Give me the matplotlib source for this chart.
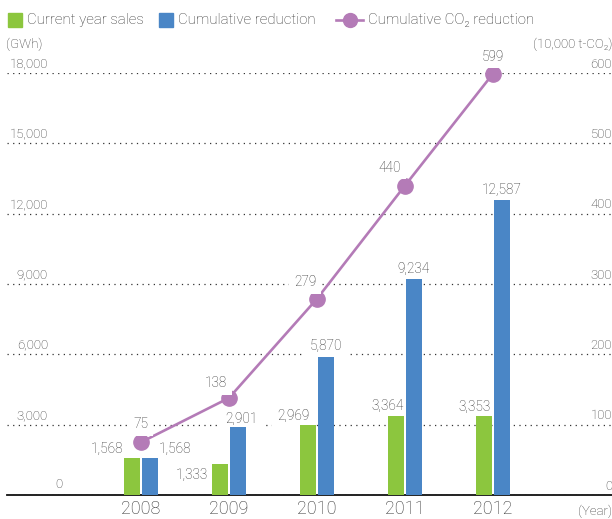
import matplotlib
matplotlib.use('Agg')
import matplotlib.pyplot as plt
from matplotlib.patches import Rectangle
from matplotlib.lines import Line2D
import numpy as np

plt.rcParams['font.family'] = ['Roboto', 'DejaVu Sans']
plt.rcParams['font.weight'] = 'light'

#%% data
years = ['2008', '2009', '2010', '2011', '2012']
current_sales = [1568, 1333, 2969, 3364, 3353]
cumulative_reduction = [1568, 2901, 5870, 9234, 12587]
co2_reduction = [75, 138, 279, 440, 599]

left_ticks = [0, 3000, 6000, 9000, 12000, 15000, 18000]
right_ticks = [0, 100, 200, 300, 400, 500, 600]

#%% style
GREEN = '#8cc63e'
BLUE = '#4a86c6'
PURPLE = '#b47bb7'
TXT = '#333333'
W, H = 612, 519
PT = 0.72  # points per pixel at dpi 100

# label offsets in pixels (dx, dy, ha) relative to bar top centre / marker
green_off = [(-9, 9, 'right'), (-12, -11, 'right'), (1, 9, 'right'), (8, 10, 'right'), (7, 9, 'right')]
blue_off = [(9, 9, 'left'), (3, 8, 'center'), (0, 11, 'center'), (-1, 10, 'center'), (0, 10, 'center')]
line_off = [(0, 18), (-13, 15), (-12, 17), (-15, 18), (0, 17)]


def fx(px):
    return px / W


def fy(py):
    return 1 - py / H


fig = plt.figure(figsize=(W / 100, H / 100), dpi=100)
ax = fig.add_axes([fx(7), fy(495), (612 - 7) / W, (495 - 73) / H])

x = np.arange(len(years))
step = 88.0
ax.set_xlim((7 - 141) / step, (612 - 141) / step)
ax.set_ylim(0, 18000)

bw = 16 / step
off = 9 / step
ax.bar(x - off, current_sales, width=bw, color=GREEN, zorder=3)
ax.bar(x + off, cumulative_reduction, width=bw, color=BLUE, zorder=3)

ax.set_yticks(left_ticks)
ax.yaxis.grid(True, linestyle=(0, (1, 3.5)), color='#333333', linewidth=0.9, zorder=0)
ax.tick_params(axis='y', length=0, labelleft=False)
ax.set_xticks(x)
ax.set_xticklabels(years, fontsize=13, color=TXT)
ax.tick_params(axis='x', length=0, pad=3.5)
for s in ['top', 'left', 'right']:
    ax.spines[s].set_visible(False)
ax.spines['bottom'].set_linewidth(1.3)
ax.spines['bottom'].set_color('#111111')
ax.set_axisbelow(True)

box = dict(boxstyle='square,pad=0.35', fc='white', ec='none')

# left tick labels
ytr = ax.get_yaxis_transform()
for v in left_ticks:
    if v == 0:
        ax.annotate('0', xy=((59 - 7) / 605, 0), xycoords=ytr, xytext=(0, 11 * PT),
                    textcoords='offset points', ha='center', va='center', fontsize=9.5, color=TXT)
    else:
        ax.annotate(f'{v:,}', xy=((48 - 7) / 605, v), xycoords=ytr, xytext=(0, 9 * PT),
                    textcoords='offset points', ha='right', va='center', fontsize=9.5, color=TXT)

# bar value labels (below the bars so the white box only hides gridlines)
for i in range(len(years)):
    dx, dy, ha = green_off[i]
    ax.annotate(f'{current_sales[i]:,}', xy=(x[i] - off, current_sales[i]),
                xytext=(dx * PT, dy * PT), textcoords='offset points',
                ha=ha, va='center', fontsize=9.8, color=TXT, bbox=box, zorder=2)
    dx, dy, ha = blue_off[i]
    ax.annotate(f'{cumulative_reduction[i]:,}', xy=(x[i] + off, cumulative_reduction[i]),
                xytext=(dx * PT, dy * PT), textcoords='offset points',
                ha=ha, va='center', fontsize=9.8, color=TXT, bbox=box, zorder=2)

# CO2 line on secondary axis
ax2 = ax.twinx()
ax2.set_ylim(0, 600)
ax2.set_yticks([])
for s in ['top', 'left', 'right', 'bottom']:
    ax2.spines[s].set_visible(False)
ax2.plot(x, co2_reduction, color=PURPLE, linewidth=1.9, marker='o',
         markersize=11, clip_on=False, zorder=4)
for i in range(len(years)):
    dx, dy = line_off[i]
    ax2.annotate(f'{co2_reduction[i]}', xy=(x[i], co2_reduction[i]),
                 xytext=(dx * PT, dy * PT), textcoords='offset points',
                 ha='center', va='center', fontsize=9.8, color=TXT, bbox=box, zorder=5)

ytr2 = ax2.get_yaxis_transform()
for v in right_ticks:
    dy = 8 if v == 0 else 9
    ax2.annotate(f'{v}', xy=(1.0, v), xycoords=ytr2, xytext=(0, dy * PT),
                 textcoords='offset points', ha='right', va='center', fontsize=9.5, color=TXT)

# unit labels
fig.text(fx(6), fy(44), '(GWh)', ha='left', va='center', fontsize=9.5, color=TXT)
fig.text(fx(612), fy(44), '(10,000 t-CO₂)', ha='right', va='center', fontsize=9.5, color=TXT)
fig.text(fx(612), fy(511), '(Year)', ha='right', va='center', fontsize=9.5, color=TXT)

# legend drawn by hand
fig.patches.append(Rectangle((fx(8), fy(27)), 14 / W, 14 / H, transform=fig.transFigure,
                             color=GREEN))
fig.text(fx(27), fy(20), 'Current year sales', ha='left', va='center', fontsize=10.8, color=TXT)
fig.patches.append(Rectangle((fx(159), fy(27)), 14 / W, 14 / H, transform=fig.transFigure,
                             color=BLUE))
fig.text(fx(178), fy(20), 'Cumulative reduction', ha='left', va='center', fontsize=10.8, color=TXT)
fig.lines.append(Line2D([fx(336), fx(363)], [fy(20), fy(20)], transform=fig.transFigure,
                        color=PURPLE, linewidth=1.9))
fig.lines.append(Line2D([fx(349.5)], [fy(20)], transform=fig.transFigure, color=PURPLE,
                        marker='o', markersize=10))
fig.text(fx(368), fy(20), 'Cumulative CO₂ reduction', ha='left', va='center', fontsize=10.8, color=TXT)

fig.savefig('out.png', dpi=100)
